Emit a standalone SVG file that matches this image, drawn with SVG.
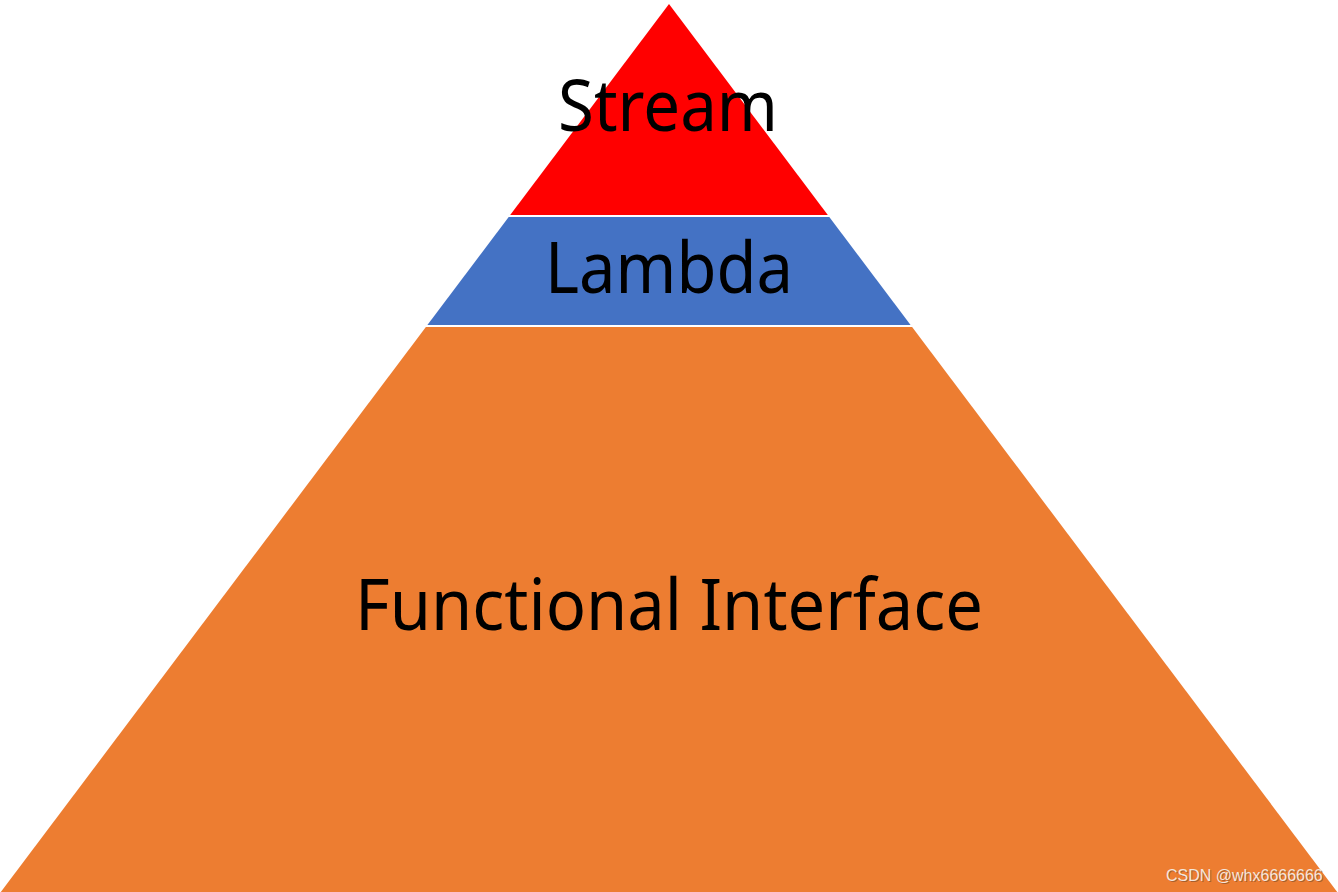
<svg xmlns="http://www.w3.org/2000/svg" width="1338" height="892" viewBox="0 0 1338 892">
  <style>
    .lbl { font-family: "Noto Sans", "Open Sans", sans-serif; font-size: 72px; fill: #000000; text-anchor: middle; }
    .wm { font-family: "Liberation Sans", Arial, sans-serif; font-size: 16px; }
  </style>
  <rect width="1338" height="892" fill="#ffffff"/>
  <g id="stream">
    <polygon points="669,4 510.2,215 827.8,215" fill="#FF0000"/>
    <text class="lbl" x="668" y="131" textLength="220" lengthAdjust="spacingAndGlyphs">Stream</text>
  </g>
  <g id="lambda">
    <polygon points="508.7,217 829.3,217 910.6,325 427.4,325" fill="#4472C4"/>
    <text class="lbl" x="669" y="293" textLength="248" lengthAdjust="spacingAndGlyphs">Lambda</text>
  </g>
  <g id="functional-interface">
    <polygon points="425.9,327 912.1,327 1337.2,892 0.8,892" fill="#ED7D31"/>
    <text class="lbl" x="669" y="630" textLength="628" lengthAdjust="spacingAndGlyphs">Functional Interface</text>
  </g>
  <g id="watermark">
    <text class="wm" x="1167" y="882" fill="#7a4a2a" fill-opacity="0.6">CSDN @whx6666666</text>
    <text class="wm" x="1166" y="881" fill="#f4e6dc">CSDN @whx6666666</text>
  </g>
</svg>
